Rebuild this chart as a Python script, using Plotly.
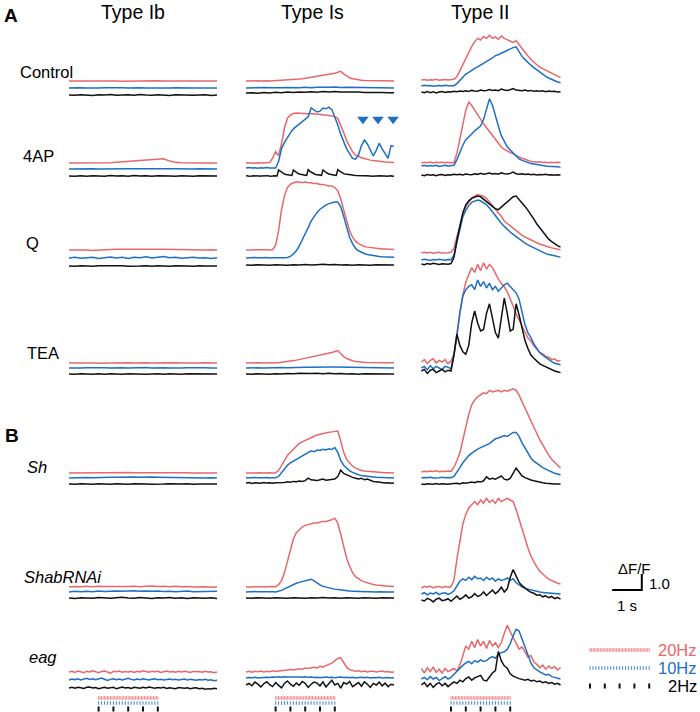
import numpy as np
import plotly.graph_objects as go

# ---------------- data (ΔF/F, relative to each trace's own baseline) ----------------
COLUMNS = ["Type Ib", "Type Is", "Type II"]
ROWS = ["Control", "4AP", "Q", "TEA", "Sh", "ShabRNAi", "eag"]
FREQS = ["20Hz", "10Hz", "2Hz"]
COL_DURATION_S = [5.0, 5.0, 4.7]
STIM_START_S = 1.0
STIM_DUR_S = 2.0
STIM_RATES_HZ = [20, 10, 2]

# Control
ctrl_Ib_20 = [0,0.01,0,0.01,0,0,0.01,0,0,-0.01,0,0,0.01,0,0,0.01,0,0,0,-0.01,0,0,0,-0.01,0,0]
ctrl_Ib_10 = [0,0.02,0.01,0,0.02,0,0.01,0.02,0,0.01,0,0.02,0.01,0,-0.01,0,0.01,0,0.02,0,0.01,0,0,0.01,0,0]
ctrl_Ib_2 = [0,-0.02,0.02,0,-0.03,0.02,0,0.03,-0.02,0,0.02,-0.02,0.03,0,-0.02,0.02,0,-0.03,0.02,0,0.02,-0.02,0,0.02,-0.03,0]
ctrl_Is_20 = [0,0.01,0.02,0,0.01,0,0.02,0.01,0,0.01,0.02,0.01,
              0.02,0.03,0.05,0.06,0.08,0.1,0.12,0.14,0.17,0.2,0.22,0.26,0.28,0.31,0.33,0.36,0.4,0.42,0.48,0.55,
              0.6,0.45,0.3,0.2,0.14,0.1,0.06,0.04,0.03,0.02,0.03,0.01,0.02,0.0,0.01,0.02,0.0,0.01,0.0]
ctrl_Is_10 = [0,0.02,0,0.03,0.01,0,0.02,0.03,0.01,0.02,0.04,0.02,0.05,0.03,0.04,0.06,0.03,0.05,0.04,0.02,0.03,0.01,0.02,0,0.01,0]
ctrl_Is_2 = [0,0.02,-0.02,0.03,0,0.05,0.02,0.06,0.03,0.07,0.04,0.08,0.05,0.09,0.06,0.1,0.07,0.08,0.05,0.06,0.03,0.04,0.02,0.03,0.01,0.02]
ctrl_II_20 = [0,0.03,-0.02,0.02,0,0.04,-0.02,0.02,0.03,0,0.02,0.05,
              0.2,0.6,1.0,1.4,1.8,2.1,2.4,2.6,2.5,2.7,2.6,2.8,2.6,2.7,2.55,2.75,2.6,2.5,2.4,2.35,2.45,2.2,
              1.95,1.7,1.5,1.3,1.1,0.95,0.8,0.7,0.6,0.5,0.4,0.3,0.2,0.15]
ctrl_II_10 = [0,0.04,0.01,0.03,-0.02,0.02,0.03,0,0.04,0.01,0.03,0.02,
              0.15,0.35,0.55,0.75,0.85,1.0,1.1,1.2,1.3,1.4,1.5,1.6,1.75,1.9,1.95,2.05,2.15,2.25,2.3,2.4,2.45,2.15,
              1.85,1.65,1.45,1.3,1.15,1.0,0.85,0.7,0.6,0.5,0.4,0.32,0.25,0.2]
ctrl_II_2 = [0,-0.05,0.03,-0.04,0.02,-0.06,0.0,0.03,-0.03,0.02,0.0,0.04,0.02,0.06,0.03,0.08,0.04,0.1,0.06,0.05,
             0.12,0.08,0.1,0.15,0.1,0.12,0.08,0.18,0.12,0.1,0.14,0.22,0.12,0.1,0.08,0.12,0.06,0.1,0.05,0.08,
             0.04,0.07,0.02,0.06,0.03,0.05,0.0,0.02]

# 4AP
ap_Ib_20 = [0,0,0.01,0,0,0.01,0,0.02,0.05,0.08,0.1,0.13,0.16,0.19,0.21,0.24,0.26,0.12,0.04,0.02,0,0.01,0,0,0.01,0]
ap_Ib_10 = [0,0.01,0,0.01,0.02,0,0.01,0,0.02,0.01,0.02,0.01,0,0.02,0.01,0.02,0,0.01,0.02,0,0.01,0,0.01,0,0,0]
ap_Ib_2 = [0,-0.02,0.02,-0.01,0.02,0,-0.02,0.03,0,0.02,-0.02,0.03,0,0.02,-0.02,0.02,0.03,0,-0.02,0.02,0,-0.02,0.02,0,-0.01,0]
ap_Is_20 = [0,0.02,0,-0.02,0.02,0,0.02,0,0.03,
            0.3,0.7,0.45,1.2,2.2,2.8,3.0,3.1,3.12,3.1,3.12,3.1,3.08,3.1,3.06,3.05,3.05,3.0,3.0,2.98,2.95,2.9,
            2.8,2.4,1.9,1.4,1.0,0.7,0.5,0.4,0.33,0.28,0.22,0.18,0.15,0.12,0.1,0.08,0.06,0.05,0.04,0.03]
ap_Is_10 = [0,0.03,0,0.02,-0.02,0.02,0,0.03,0,0.02,0,
            0.4,1.2,1.6,1.95,2.2,2.45,2.6,2.8,2.95,3.1,3.2,3.75,3.6,3.5,3.55,3.75,3.7,3.8,3.65,3.2,
            2.7,2.1,1.6,1.2,0.9,0.6,0.55,0.8,1.4,1.75,1.5,1.1,0.75,1.1,1.55,1.2,0.9,0.6,1.4,1.35]
ap_Is_2 = [0,0.02,-0.02,0.01,0,0.02,-0.01,0,0.02,-0.02,0,0.01,0.02,-0.01,0,0.02,-0.02,0.01,0,0.02,-0.01,0,
           0.38,0.3,0.22,0.16,0.12,0.09,0.07,0.05,0.04,0.03,
           0.38,0.3,0.23,0.17,0.13,0.1,0.08,0.06,0.05,0.04,
           0.4,0.31,0.24,0.18,0.14,0.1,0.08,0.06,0.05,0.04,
           0.38,0.3,0.23,0.17,0.13,0.1,0.08,0.06,0.05,0.04,
           0.4,0.32,0.25,0.19,0.15,0.12,0.1,0.08,0.06,0.05,0.04,0.04,0.03,0.02,0.03,0.01,0.02,0.0,0.01,0.02,
           0.0,0.01,0.0,-0.01,0.0,0.01,0.0,-0.01,0.0,0.01,0.0,0.02,0.0,-0.01,0.01,0.0,0.01,-0.01,0.0]
ap_II_20 = [0,0.05,0.02,0.06,0,0.04,0.03,0.05,0.02,0.04,0,0.03,
            0.6,1.5,2.5,3.3,3.8,3.6,3.3,3.0,2.7,2.45,2.2,1.95,1.7,1.45,1.2,1.0,0.85,0.75,0.63,0.55,0.45,0.38,
            0.3,0.22,0.15,0.1,0.08,0.05,0.07,0.03,0.05,0.02,0.04,0.02,0.05,0.03]
ap_II_10 = [0,0.04,-0.02,0.03,0,0.05,-0.03,0.02,0.04,0,0.03,0.05,
            0.4,0.9,1.3,1.65,1.8,2.0,2.2,2.35,2.5,2.9,3.5,4.2,3.8,3.1,2.5,1.9,1.5,1.2,1.0,0.8,0.6,0.45,
            0.35,0.28,0.2,0.15,0.12,0.08,0.05,0.02,0.0,-0.02,-0.03,-0.05,-0.04,-0.06]
ap_II_2 = [0,-0.04,0.03,-0.02,0.02,-0.05,0.01,0.03,-0.03,0.02,0.0,0.04,0.02,0.05,0.0,0.06,0.03,0.02,0.07,0.04,
           0.1,0.05,0.08,0.12,0.06,0.09,0.05,0.14,0.08,0.06,0.1,0.18,0.08,0.05,0.07,0.03,0.06,0.02,0.04,0.0,
           0.03,0.01,0.04,0.0,0.02,-0.02,0.01,0.0]

# Q
q_Ib_20 = [0,0.01,-0.01,0,-0.03,0,0.02,0.03,0.04,0.05,0.04,0.06,0.05,0.04,0.06,0.05,0.04,0.03,0.04,0.02,0.03,0.01,0.02,0,0.01,0]
q_Ib_10 = [0,0.04,-0.02,0.03,0.05,-0.03,0.02,0.06,0.0,0.04,-0.03,0.05,0.02,0.07,0.0,0.03,0.09,0.01,0.04,-0.02,0.03,0.05,0.0,0.02,-0.03,0.01]
q_Ib_2 = [0,-0.02,0.02,0,-0.02,0.01,0.02,-0.01,0,0.02,-0.02,0.01,0,0.02,-0.01,0.02,0,-0.02,0.01,0.02,0,-0.01,0.02,0,-0.02,0]
q_Is_20 = [0,0.02,0,0.01,0.02,0,0.01,0.02,0,0.02,
           0.3,1.2,2.5,3.4,3.9,4.1,4.2,4.25,4.25,4.2,4.25,4.2,4.2,4.15,4.15,4.1,4.1,4.05,4.0,4.0,3.9,
           3.7,3.2,2.5,1.8,1.2,0.8,0.55,0.4,0.3,0.22,0.18,0.15,0.12,0.1,0.08,0.07,0.06,0.05,0.04,0.03]
q_Is_10 = [0,0.02,0,0.03,0.01,0,0.02,0.03,0,0.02,0.01,0.03,0,0.02,0.03,
           0.1,0.25,0.45,0.75,1.1,1.5,1.9,2.3,2.6,2.85,3.05,3.2,3.3,3.4,3.45,3.5,3.5,3.2,2.6,1.9,
           1.3,0.9,0.6,0.45,0.35,0.28,0.22,0.18,0.15,0.12,0.1,0.08,0.07,0.06,0.05,0.04]
q_Is_2 = [0,-0.02,0.02,0,-0.02,0.02,0.01,-0.02,0.02,0,0.03,0,0.02,0.04,0.01,0.03,0,0.02,-0.01,0.02,0,-0.02,0.01,0,-0.01,0]
q_II_20 = [0,0.05,0,0.04,-0.02,0.03,0.05,0,0.03,0.02,0.04,
           0.3,1.0,1.8,2.4,2.9,3.2,3.45,3.55,3.65,3.6,3.55,3.4,3.2,2.95,2.75,2.5,2.3,2.0,1.85,1.7,1.5,1.35,
           1.25,1.1,1.0,0.9,0.8,0.72,0.65,0.55,0.5,0.42,0.38,0.32,0.28,0.22,0.2]
q_II_10 = [0,0.04,0.02,-0.03,0.03,0,0.05,0.02,-0.02,0.03,0.02,
           0.3,1.1,2.0,2.7,3.1,3.4,3.6,3.7,3.75,3.7,3.6,3.45,3.25,3.0,2.8,2.55,2.3,2.1,1.9,1.75,1.6,1.45,
           1.3,1.2,1.05,0.95,0.85,0.75,0.65,0.55,0.48,0.4,0.35,0.3,0.25,0.2,0.18]
q_II_2 = [0,-0.04,0.03,-0.02,0.04,0,-0.03,0.02,0.0,-0.02,0.03,
          0.4,1.5,2.45,3.2,3.7,3.95,4.1,4.2,4.25,4.2,4.05,3.85,3.7,3.55,3.45,3.4,3.55,3.75,3.9,4.05,4.2,
          4.25,4.05,3.8,3.6,3.35,3.1,2.8,2.5,2.25,2.0,1.75,1.55,1.4,1.25,1.15,1.05]

# TEA
tea_Ib_20 = [0,0.01,0,0.01,0,-0.01,0,0.01,0,0,0.01,0,0.02,0.01,0,0.01,0,0,0.01,0,-0.01,0,0,0.01,0,0]
tea_Ib_10 = [0,0.02,0,0.01,0.02,0,0.01,0,0.02,0.01,0,0.02,0.01,0.03,0,0.02,0.01,0,0.02,0,0.01,0.02,0,0.01,0,0]
tea_Ib_2 = [0,-0.02,0.02,0,-0.02,0.02,-0.01,0.02,0,-0.02,0.02,0,0.02,-0.02,0,0.02,-0.01,0.02,0,-0.02,0.01,0,0.02,-0.02,0,0]
tea_Is_20 = [0,0.01,0,0.02,0.01,0,0.01,0.02,0,0.01,0.02,0.01,
             0.03,0.06,0.09,0.12,0.15,0.18,0.22,0.25,0.28,0.32,0.35,0.38,0.42,0.46,0.5,0.55,0.6,0.66,0.72,0.78,
             0.6,0.4,0.28,0.2,0.14,0.1,0.07,0.05,0.04,0.03,0.02,0.03,0.01,0.02,0.0,0.01,0.02,0.0,0.01]
tea_Is_10 = [0,0.02,0.01,0,0.02,0.01,0.03,0.02,0.04,0.03,0.05,0.04,0.06,0.05,0.07,0.06,0.05,0.04,0.03,0.02,0.03,0.01,0.02,0,0.01,0]
tea_Is_2 = [0,-0.02,0.02,0,-0.02,0.02,0,0.03,0.01,0.04,0.02,0.03,0.05,0.02,0.04,0.01,0.03,0,0.02,-0.01,0.01,0,-0.02,0.01,0,0]
tea_II_20 = [0,0.15,-0.1,0.1,0.2,-0.05,0.1,0,0.15,-0.1,0.05,
             0.5,1.8,3.0,4.2,5.0,5.5,5.9,5.6,6.1,5.7,6.2,5.8,6.1,5.9,5.5,5.2,4.9,4.7,4.4,4.0,3.5,3.0,2.6,
             2.2,1.8,1.5,1.3,1.0,0.8,0.6,0.5,0.35,0.3,0.15,0.2,0.05,0.1]
tea_II_10 = [0,0.1,-0.1,0.15,-0.05,0.1,0,-0.1,0.1,0.05,-0.05,
             0.8,2.0,3.5,4.5,4.9,5.1,5.2,4.9,5.5,5.1,5.4,5.0,5.3,4.9,5.1,4.8,5.0,5.2,5.3,5.1,4.9,4.7,4.3,
             3.4,2.7,2.2,1.9,1.5,1.2,0.95,0.8,0.65,0.5,0.4,0.3,0.25,0.2]
tea_II_2 = [0,0.1,-0.15,0.05,0.1,-0.1,0,0.1,-0.05,0.05,0,
            1.0,2.3,1.6,1.2,1.05,1.6,3.0,3.75,3.0,2.5,2.6,3.6,4.2,3.3,2.4,2.05,3.2,4.55,3.6,2.5,2.6,4.2,3.5,
            2.6,1.9,1.4,1.0,0.8,0.6,0.45,0.35,0.25,0.15,0.1,0.0,-0.05,-0.1]

# Sh
sh_Ib_20 = [0,0.01,0,0.01,0.02,0.01,0.02,0.01,0.03,0.02,0.03,0.02,0.03,0.02,0.03,0.02,0.01,0.02,0.01,0,0.01,0,0,0.01,0,0]
sh_Ib_10 = [0,0.02,0.01,0.03,0.02,0.04,0.03,0.05,0.04,0.06,0.05,0.06,0.05,0.07,0.06,0.05,0.04,0.03,0.04,0.02,0.03,0.01,0.02,0,0.01,0]
sh_Ib_2 = [0,-0.02,0.01,0,-0.02,0.02,0,-0.01,0.02,0,-0.02,0.01,0.02,0,-0.02,0.01,0,0.02,-0.01,0,0.01,-0.02,0,0.01,-0.01,0]
sh_Is_20 = [0,0.01,0,0.02,0,0.01,0,0.02,0.01,0,0.01,
            0.15,0.5,0.85,1.1,1.3,1.5,1.7,1.85,1.95,2.05,2.15,2.25,2.3,2.38,2.43,2.48,2.52,2.55,2.57,2.58,
            2.62,2.0,1.3,0.85,0.6,0.42,0.3,0.22,0.16,0.12,0.1,0.08,0.06,0.05,0.04,0.03,0.02,0.02,0.0,0.0]
sh_Is_10 = [0,0.02,0,0.03,0.01,0,0.02,0.03,0,0.02,0.01,
            0.1,0.35,0.6,0.8,0.95,1.05,1.15,1.3,1.4,1.5,1.6,1.7,1.65,1.75,1.72,1.8,1.75,1.82,1.78,1.9,
            1.6,1.1,0.8,0.6,0.45,0.35,0.25,0.2,0.15,0.12,0.1,0.08,0.07,0.05,0.04,0.03,0.03,0.02,0.0,0.0]
sh_Is_2 = [0,0.03,-0.03,0.02,0,-0.02,0.03,0,0.02,-0.02,0.02,
           0.02,0.05,0.03,0.08,0.05,0.1,0.08,0.12,0.1,0.15,0.3,0.2,0.18,0.15,0.2,0.25,0.18,0.2,0.22,0.25,
           0.4,0.8,0.6,0.5,0.4,0.35,0.3,0.25,0.3,0.2,0.25,0.15,0.1,0.08,0.05,0.03,0.0,0.02,-0.02,0.0]
sh_II_20 = [0,0.05,0.02,0.06,0.03,0.07,0.02,0.05,0.03,0.06,0.04,
            0.3,0.7,1.2,2.0,2.9,3.6,4.2,4.5,4.7,4.85,4.95,4.9,5.1,5.0,5.05,5.1,5.0,5.1,5.05,5.15,5.2,5.1,
            4.8,4.4,4.0,3.6,3.15,2.75,2.4,2.0,1.7,1.35,1.05,0.8,0.6,0.4,0.25]
sh_II_10 = [0,0.03,0.01,0.04,0.0,0.03,0.02,0.04,0.01,0.03,0.02,
            0.1,0.35,0.65,0.95,1.2,1.4,1.55,1.7,1.8,1.9,1.98,2.05,2.15,2.3,2.45,2.5,2.6,2.65,2.6,2.75,2.85,
            2.85,2.6,2.2,1.85,1.5,1.25,1.05,0.9,0.8,0.65,0.55,0.45,0.38,0.3,0.25,0.2]
sh_II_2 = [0,-0.03,0.02,0.0,-0.02,0.03,-0.01,0.02,0.0,-0.02,0.02,
           0.02,0.05,0.0,0.08,0.05,0.1,0.12,0.08,0.15,0.12,0.2,0.45,0.3,0.35,0.3,0.4,0.5,0.3,0.25,0.35,0.7,
           1.0,0.75,0.5,0.4,0.3,0.25,0.2,0.15,0.1,0.08,0.05,0.05,0.02,0.0,0.02,0.0]

# ShabRNAi
shab_Ib_20 = [0,0.03,0.01,0.04,0.02,0.05,0.03,0.02,0.04,0.01,0.03,0.05,0.02,0.04,0.06,0.03,0.05,0.02,0.04,0.01,0.03,0.0,0.02,0.01,-0.02,0.0]
shab_Ib_10 = [0,0.04,0.01,0.05,0.02,0.06,0.03,0.05,0.07,0.04,0.06,0.08,0.05,0.07,0.04,0.06,0.03,0.05,0.02,0.04,0.06,0.02,0.03,0.0,0.02,0.04]
shab_Ib_2 = [0,-0.03,0.02,0.0,-0.02,0.03,0.01,-0.02,0.02,0.04,0.0,-0.02,0.03,0.0,-0.03,0.02,0.0,0.03,-0.02,0.01,-0.03,0.02,0.0,-0.02,0.01,-0.03]
shab_Is_20 = [0,0.02,0,0.01,0.03,0.01,0,0.02,0.01,0.03,0.02,
              0.15,0.4,0.9,1.6,2.4,3.0,3.4,3.6,3.75,3.85,3.9,3.95,4.0,4.0,4.05,4.1,4.1,4.15,4.2,4.3,
              4.0,3.3,2.5,1.8,1.3,0.9,0.65,0.5,0.4,0.32,0.25,0.2,0.16,0.13,0.1,0.08,0.06,0.05,0.04,0.03]
shab_Is_10 = [0,0.02,0.0,0.03,0.01,0.02,0.0,0.03,0.01,0.02,0.0,
              0.05,0.1,0.2,0.3,0.4,0.5,0.55,0.6,0.65,0.7,0.75,0.8,0.7,0.55,0.45,0.35,0.3,0.25,0.2,0.18,
              0.15,0.12,0.1,0.08,0.06,0.05,0.04,0.03,0.03,0.02,0.02,0.01,0.01,0.0,0.02,0.0,0.01,0.0,0.0,0.0]
shab_Is_2 = [0,-0.02,0.02,0,-0.02,0.02,0.01,-0.02,0.02,0,-0.02,0.02,0,0.03,0,0.02,-0.02,0.02,0,-0.02,0.02,0,-0.01,0.02,0,0]
shab_II_20 = [0,0.1,0.05,0.12,0.0,0.08,0.1,0.02,0.1,0.05,0.08,
              0.5,1.8,3.0,4.0,4.6,5.0,5.2,5.4,5.2,5.5,5.3,5.6,5.35,5.5,5.3,5.6,5.4,5.5,5.6,5.5,5.4,4.9,
              4.3,3.6,3.0,2.5,2.0,1.6,1.3,1.05,0.85,0.7,0.55,0.45,0.35,0.3,0.25]
shab_II_10 = [0,0.08,-0.05,0.06,0.0,0.1,-0.04,0.05,0.08,-0.02,0.05,
              0.2,0.5,0.8,0.95,0.85,1.05,0.9,1.1,0.95,1.0,0.85,1.05,0.9,1.0,0.8,0.95,0.85,0.9,1.0,0.85,0.95,
              0.7,0.55,0.45,0.35,0.3,0.25,0.2,0.15,0.12,0.1,0.08,0.05,0.05,0.03,0.02,0.0]
shab_II_2 = [0,-0.06,0.1,0.02,-0.12,0.05,0.12,-0.04,0.0,0.08,-0.08,
             0.1,0.25,0.05,0.15,0.32,0.12,0.2,0.4,0.22,0.3,0.5,0.28,0.45,0.62,0.4,0.55,0.8,0.5,0.7,1.4,1.9,
             1.5,1.1,0.9,0.72,0.6,0.48,0.42,0.3,0.33,0.2,0.26,0.14,0.22,0.08,0.16,0.05]

# eag
eag_Ib_20 = [0,0.05,-0.03,0.06,0.02,-0.04,0.05,0.0,0.07,0.02,-0.05,0.03,0.06,0.0,-0.08,0.04,0.02,0.06,-0.02,0.03,
             0.0,0.05,-0.03,0.04,0.0,0.08,0.03,-0.02,0.05,0.01,0.04,-0.03,0.02,0.06,0.0,0.03,-0.02,0.05,0.0,0.04,
             0.02,-0.03,0.05,0.01,0.03,-0.02,0.04,0.0,0.02,-0.04,0.0]
eag_Ib_10 = [0,0.06,0.02,0.08,0.0,0.05,0.1,0.04,0.08,0.02,0.06,0.12,0.05,-0.03,0.04,0.08,0.02,0.06,0.0,0.05,
             0.1,0.04,0.0,0.06,0.02,0.08,0.03,0.0,0.05,0.07,0.02,0.05,0.0,0.04,0.06,0.01,0.05,0.0,0.03,0.06,
             0.0,0.04,0.02,-0.02,0.03,0.0,0.04,-0.02,0.02,-0.04,-0.02]
eag_Ib_2 = [0,0.04,-0.02,0.05,0.01,-0.03,0.04,0.06,0.0,0.03,-0.04,0.02,0.05,-0.02,0.0,0.04,-0.05,0.02,0.06,0.0,
            0.03,-0.03,0.05,0.02,-0.02,0.04,0.0,0.06,0.02,-0.02,0.03,0.0,0.05,-0.03,0.02,0.0,-0.04,0.03,0.0,-0.02,
            0.02,-0.04,0.0,0.02,-0.05,-0.02,-0.08,-0.04,-0.06,-0.02,-0.04]
eag_Is_20 = [0,0.05,-0.02,0.04,0.01,0.06,0.0,0.05,0.02,0.07,0.03,0.05,0.1,0.08,0.12,0.15,0.12,0.18,0.2,0.17,
             0.25,0.22,0.28,0.3,0.26,0.35,0.32,0.4,0.45,0.55,0.7,0.85,0.88,0.6,0.3,0.15,0.1,0.05,0.08,0.02,
             0.06,0.0,0.04,0.05,0.0,0.03,0.06,0.0,0.03,-0.02,0.0]
eag_Is_10 = [0,0.03,0.01,0.04,0.0,0.03,0.02,0.05,0.03,0.06,0.04,0.07,0.05,0.08,0.06,0.07,0.05,0.09,0.06,0.05,
             0.08,0.04,0.06,0.03,0.05,0.02,0.04,0.06,0.03,0.05,0.02,0.04,0.06,0.03,0.05,0.02,0.04,0.0,0.03,0.05,
             0.02,0.04,0.0,0.03,0.01,0.04,0.0,0.02,0.03,0.0,0.02]
eag_Is_2 = [0,0.1,-0.05,0.18,0.05,-0.12,0.08,0.2,0.02,-0.1,0.15,0.0,-0.18,0.1,0.25,0.05,-0.08,0.12,-0.02,0.22,
            0.1,-0.15,0.05,0.18,0.12,-0.05,0.2,-0.12,0.08,0.3,0.0,0.1,-0.2,0.15,0.05,0.22,-0.1,0.0,0.15,-0.08,
            0.2,0.05,-0.15,0.1,0.0,0.18,-0.05,0.12,-0.1,0.05,0.0]
eag_II_20 = [0.1,-0.2,0.15,-0.1,0.2,-0.15,0.05,-0.2,0.1,-0.1,0.0,
             0.1,-0.05,0.3,0.9,1.5,1.3,1.8,1.4,1.9,1.5,1.8,1.35,1.85,1.5,1.7,1.4,1.7,2.3,2.8,2.4,2.0,1.7,
             1.3,1.45,1.1,0.8,0.9,0.5,0.35,0.15,0.3,0.05,0.25,0.1,0.2,0.0,0.15]
eag_II_10 = [0,0.1,-0.05,0.15,0.0,0.1,-0.1,0.05,0.15,0.0,0.1,
             0.3,0.5,0.7,0.85,1.0,1.1,0.95,1.15,1.05,1.2,1.1,1.15,1.3,1.4,1.3,1.55,1.65,1.7,1.85,2.2,2.7,
             3.1,3.0,2.5,1.9,1.4,1.0,0.7,0.55,0.45,0.35,0.25,0.3,0.15,0.1,0.05,0.0]
eag_II_2 = [0,0.15,-0.1,0.1,-0.15,0.05,0.15,-0.05,0.1,-0.1,0.05,
            0.2,0.1,0.3,0.2,0.4,0.5,0.3,0.45,0.55,0.6,0.3,0.25,0.5,0.75,0.9,2.1,1.5,1.2,1.05,0.7,0.55,
            0.45,0.4,0.35,0.3,0.35,0.25,0.3,0.2,0.25,0.15,0.2,0.1,0.15,0.05,0.1,0.0]

TRACES = {
    ("Control", "Type Ib"): (ctrl_Ib_20, ctrl_Ib_10, ctrl_Ib_2),
    ("Control", "Type Is"): (ctrl_Is_20, ctrl_Is_10, ctrl_Is_2),
    ("Control", "Type II"): (ctrl_II_20, ctrl_II_10, ctrl_II_2),
    ("4AP", "Type Ib"): (ap_Ib_20, ap_Ib_10, ap_Ib_2),
    ("4AP", "Type Is"): (ap_Is_20, ap_Is_10, ap_Is_2),
    ("4AP", "Type II"): (ap_II_20, ap_II_10, ap_II_2),
    ("Q", "Type Ib"): (q_Ib_20, q_Ib_10, q_Ib_2),
    ("Q", "Type Is"): (q_Is_20, q_Is_10, q_Is_2),
    ("Q", "Type II"): (q_II_20, q_II_10, q_II_2),
    ("TEA", "Type Ib"): (tea_Ib_20, tea_Ib_10, tea_Ib_2),
    ("TEA", "Type Is"): (tea_Is_20, tea_Is_10, tea_Is_2),
    ("TEA", "Type II"): (tea_II_20, tea_II_10, tea_II_2),
    ("Sh", "Type Ib"): (sh_Ib_20, sh_Ib_10, sh_Ib_2),
    ("Sh", "Type Is"): (sh_Is_20, sh_Is_10, sh_Is_2),
    ("Sh", "Type II"): (sh_II_20, sh_II_10, sh_II_2),
    ("ShabRNAi", "Type Ib"): (shab_Ib_20, shab_Ib_10, shab_Ib_2),
    ("ShabRNAi", "Type Is"): (shab_Is_20, shab_Is_10, shab_Is_2),
    ("ShabRNAi", "Type II"): (shab_II_20, shab_II_10, shab_II_2),
    ("eag", "Type Ib"): (eag_Ib_20, eag_Ib_10, eag_Ib_2),
    ("eag", "Type Is"): (eag_Is_20, eag_Is_10, eag_Is_2),
    ("eag", "Type II"): (eag_II_20, eag_II_10, eag_II_2),
}

# 4AP Type Is oscillation markers (time, s; ΔF/F above the 10 Hz baseline)
OSC_T = [3.95, 4.46, 4.97]
OSC_Y = 3.05

# ---------------- layout / style ----------------
W, H = 700, 712
PX_PER_S = 29.6
PX_PER_UNIT = 16.0
COL_LEFT_PX = [69, 246, 421.4]
LEGEND_LEFT_PX = 560.4
BASE_PX = {
    "Control": [(81, 88, 95), (81, 88, 93), (80, 86, 92)],
    "4AP": [(163, 169, 176), (163, 168, 176), (163, 166, 175)],
    "Q": [(250, 258, 266), (250, 258, 265), (253, 260, 264)],
    "TEA": [(363, 368, 374), (363, 368, 374), (362, 368, 371)],
    "Sh": [(473, 478, 484), (473, 478, 483), (472, 478, 484)],
    "ShabRNAi": [(587, 592, 598), (587, 592, 598), (588, 594, 600)],
    "eag": [(672, 680, 688), (672, 678, 685), (670, 679, 685)],
}
COLORS = {"20Hz": "#E8676B", "10Hz": "#1C6FC5", "2Hz": "#111111"}
FONT = "Liberation Sans, Arial, Helvetica, sans-serif"

fig = go.Figure()


def xr(left):
    return [-left / PX_PER_S, (W - left) / PX_PER_S]


def yr(zero):
    return [(zero - H) / PX_PER_UNIT, zero / PX_PER_UNIT]


axis_common = dict(visible=False, fixedrange=True, domain=[0, 1], showgrid=False, zeroline=False)
layout_axes = {}
for ci, left in enumerate(COL_LEFT_PX + [LEGEND_LEFT_PX]):
    name = "xaxis" if ci == 0 else f"xaxis{ci + 1}"
    layout_axes[name] = dict(axis_common, range=xr(left))
row_zero = {}
for ri, row in enumerate(ROWS):
    zero = BASE_PX[row][0][2]
    row_zero[row] = zero
    name = "yaxis" if ri == 0 else f"yaxis{ri + 1}"
    layout_axes[name] = dict(axis_common, range=yr(zero))
PIX_Y = len(ROWS) + 1
layout_axes[f"yaxis{PIX_Y}"] = dict(axis_common, range=[H, 0])
SCALE_ZERO_PX = 590
layout_axes[f"yaxis{PIX_Y + 1}"] = dict(axis_common, range=yr(SCALE_ZERO_PX))


def xa(ci):
    return "x" if ci == 0 else f"x{ci + 1}"


def ya(ri):
    return "y" if ri == 0 else f"y{ri + 1}"


for ri, row in enumerate(ROWS):
    for ci, col in enumerate(COLUMNS):
        series = TRACES[(row, col)]
        for fi in range(3):
            vals = np.asarray(series[fi], dtype=float)
            t = np.linspace(0, COL_DURATION_S[ci], len(vals))
            offset = (row_zero[row] - BASE_PX[row][ci][fi]) / PX_PER_UNIT
            fig.add_trace(go.Scatter(
                x=t, y=vals + offset, mode="lines",
                line=dict(color=COLORS[FREQS[fi]], width=1.5),
                xaxis=xa(ci), yaxis=ya(ri), hoverinfo="skip", showlegend=False))

ri_4ap = ROWS.index("4AP")
off10 = (row_zero["4AP"] - BASE_PX["4AP"][1][1]) / PX_PER_UNIT
fig.add_trace(go.Scatter(
    x=OSC_T, y=[OSC_Y + off10] * len(OSC_T), mode="markers",
    marker=dict(symbol="triangle-down", size=10, color=COLORS["10Hz"]),
    xaxis=xa(1), yaxis=ya(ri_4ap), hoverinfo="skip", showlegend=False))

STIM_ROW_PX = [698, 703, 709]
LEGEND_ROW_PX = [650, 668, 686]
TICK_STYLE = [
    dict(size=2.6, width=1.0, color="#EE8E90"),
    dict(size=2.6, width=1.1, color="#4A8FD6"),
    dict(size=3.6, width=2.0, color="#111111"),
]
for fi, rate in enumerate(STIM_RATES_HZ):
    n = int(round(STIM_DUR_S * rate)) + 1
    times = STIM_START_S + np.arange(n) / rate
    st = TICK_STYLE[fi]
    for ci in range(len(COLUMNS) + 1):
        ypx = LEGEND_ROW_PX[fi] if ci == len(COLUMNS) else STIM_ROW_PX[fi]
        fig.add_trace(go.Scatter(
            x=times, y=[ypx] * n, mode="markers",
            marker=dict(symbol="line-ns", size=st["size"],
                        line=dict(width=st["width"], color=st["color"])),
            xaxis=xa(ci), yaxis=f"y{PIX_Y}", hoverinfo="skip", showlegend=False))

SCALE_T0 = 1.75
fig.add_trace(go.Scatter(
    x=[SCALE_T0, SCALE_T0 + 1.0, SCALE_T0 + 1.0], y=[0, 0, 1.0], mode="lines",
    line=dict(color="black", width=2), xaxis=xa(3), yaxis=f"y{PIX_Y + 1}",
    hoverinfo="skip", showlegend=False))


def px_ann(text, x, y, size, xanchor="left", color="black", bold=False, italic=False):
    if bold:
        text = f"<b>{text}</b>"
    if italic:
        text = f"<i>{text}</i>"
    return dict(text=text, x=x / W, y=1 - y / H, xref="paper", yref="paper",
                xanchor=xanchor, yanchor="middle", showarrow=False,
                font=dict(family=FONT, size=size, color=color))


annotations = [
    px_ann("A", 2, 15, 19, bold=True),
    px_ann("B", 3, 435, 19, bold=True),
    px_ann("Type Ib", 133, 12, 19.5, xanchor="center"),
    px_ann("Type Is", 312, 12, 19.5, xanchor="center"),
    px_ann("Type II", 480, 12, 19.5, xanchor="center"),
    px_ann("Control", 18, 72, 16.5),
    px_ann("4AP", 21, 156, 16.5),
    px_ann("Q", 24, 243, 16.5),
    px_ann("TEA", 25, 353, 16.5),
    px_ann("Sh", 25, 467, 16.5, italic=True),
    px_ann("ShabRNAi", 22, 577, 16.5, italic=True),
    px_ann("eag", 27, 657, 16.5, italic=True),
    px_ann("ΔF/F", 616, 568, 15),
    px_ann("1.0", 647, 583, 15),
    px_ann("1 s", 627, 605, 15, xanchor="center"),
    px_ann("20Hz", 699, 650, 16.5, xanchor="right", color=COLORS["20Hz"]),
    px_ann("10Hz", 699, 668, 16.5, xanchor="right", color=COLORS["10Hz"]),
    px_ann("2Hz", 699, 686, 16.5, xanchor="right", color="black"),
]

fig.update_layout(
    width=W, height=H, margin=dict(l=0, r=0, t=0, b=0),
    paper_bgcolor="white", plot_bgcolor="rgba(0,0,0,0)",
    showlegend=False, annotations=annotations, **layout_axes)

fig.write_html(
    "out.html",
    config={"displayModeBar": False, "staticPlot": True},
    post_script="document.body.style.margin='0';document.body.style.overflow='hidden';")
